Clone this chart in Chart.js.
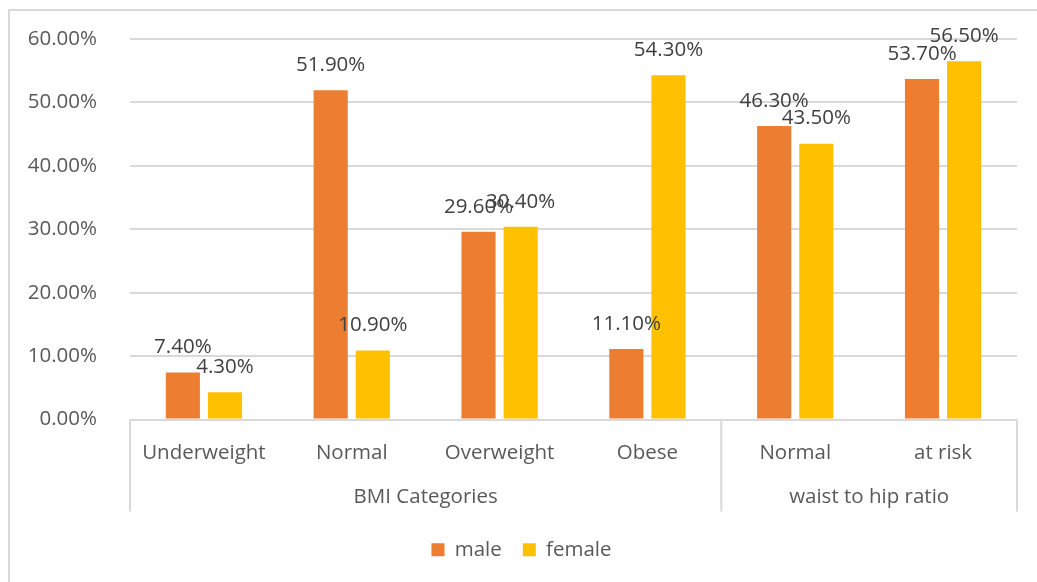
<!DOCTYPE html>
<html>
<head>
<meta charset="utf-8">
<script src="https://cdn.jsdelivr.net/npm/chart.js@4.4.0/dist/chart.umd.min.js"></script>
<style>
body { margin: 0; background: #fff; overflow: hidden; }
#frame { position: absolute; left: 8px; top: 9px; width: 1100px; height: 600px; border: 2px solid #d9d9d9; }
#wrap { position: absolute; left: 10px; top: 10px; width: 1027px; height: 572px; }
</style>
</head>
<body>
<div id="frame"></div>
<div id="wrap"><canvas id="bmiChart"></canvas></div>
<script>
const categories = ['Underweight', 'Normal', 'Overweight', 'Obese', 'Normal', 'at risk'];
const groupLabels = ['BMI Categories', 'waist to hip ratio'];
const groupSizes = [4, 2];
const male = [7.4, 51.9, 29.6, 11.1, 46.3, 53.7];
const female = [4.3, 10.9, 30.4, 54.3, 43.5, 56.5];
const yTicks = [0, 10, 20, 30, 40, 50, 60];

const FONT = '"Open Sans", sans-serif';
const FSIZE = 20.5;

// value labels above the bars
const barLabels = {
  id: 'barLabels',
  afterDatasetsDraw(chart) {
    const ctx = chart.ctx;
    ctx.save();
    ctx.font = FSIZE + 'px ' + FONT;
    ctx.fillStyle = '#404040';
    ctx.textAlign = 'center';
    ctx.textBaseline = 'middle';
    chart.data.datasets.forEach((ds, i) => {
      chart.getDatasetMeta(i).data.forEach((bar, j) => {
        ctx.fillText(ds.data[j].toFixed(2) + '%', bar.x, bar.y - 25);
      });
    });
    ctx.restore();
  }
};

// second row of the x axis: group separators and group names
const groupAxis = {
  id: 'groupAxis',
  afterDraw(chart) {
    const ctx = chart.ctx;
    const x = chart.scales.x;
    const top = chart.chartArea.bottom;
    const bottom = top + 92;
    const edges = [x.left];
    let idx = 0;
    groupSizes.forEach(n => {
      idx += n;
      if (idx >= categories.length) edges.push(x.right);
      else edges.push((x.getPixelForValue(idx - 1) + x.getPixelForValue(idx)) / 2);
    });
    ctx.save();
    ctx.strokeStyle = '#d9d9d9';
    ctx.lineWidth = 2;
    edges.forEach(e => {
      ctx.beginPath();
      ctx.moveTo(e, top);
      ctx.lineTo(e, bottom);
      ctx.stroke();
    });
    ctx.font = FSIZE + 'px ' + FONT;
    ctx.fillStyle = '#595959';
    ctx.textAlign = 'center';
    ctx.textBaseline = 'middle';
    groupLabels.forEach((lab, g) => {
      ctx.fillText(lab, (edges[g] + edges[g + 1]) / 2, top + 78);
    });
    ctx.restore();
  }
};

new Chart(document.getElementById('bmiChart'), {
  type: 'bar',
  data: {
    labels: categories,
    datasets: [
      { label: 'male', data: male, backgroundColor: '#ED7D31' },
      { label: 'female', data: female, backgroundColor: '#FFC000' }
    ]
  },
  options: {
    responsive: true,
    maintainAspectRatio: false,
    animation: false,
    categoryPercentage: 0.57,
    barPercentage: 0.81,
    layout: { padding: { top: 29, right: 20, bottom: 12, left: 16 } },
    plugins: {
      tooltip: { enabled: false },
      legend: {
        position: 'bottom',
        labels: {
          boxWidth: 13,
          boxHeight: 13,
          padding: 21,
          color: '#595959',
          font: { family: FONT, size: FSIZE }
        }
      }
    },
    scales: {
      x: {
        grid: { display: false },
        border: { display: false },
        ticks: {
          color: '#595959',
          padding: 13,
          maxRotation: 0,
          font: { family: FONT, size: FSIZE }
        },
        afterFit(scale) { scale.height = 99; }
      },
      y: {
        min: 0,
        max: 60,
        grid: { color: '#d9d9d9', lineWidth: 2, drawTicks: false },
        border: { display: false },
        afterBuildTicks(scale) { scale.ticks = yTicks.map(v => ({ value: v })); },
        afterFit(scale) {
          scale.width = 104;
          scale.paddingTop = 12;
          scale.paddingBottom = 12;
        },
        ticks: {
          color: '#595959',
          padding: 33,
          font: { family: FONT, size: FSIZE },
          callback: v => v.toFixed(2) + '%'
        }
      }
    }
  },
  plugins: [barLabels, groupAxis]
});
</script>
</body>
</html>
